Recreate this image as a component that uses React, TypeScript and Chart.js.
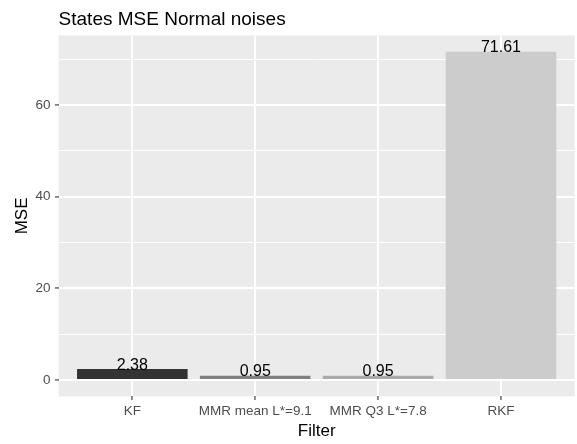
import React, { useEffect, useRef } from "react";
import { Chart, registerables } from "chart.js";

Chart.register(...registerables);

const categories = ["KF", "MMR mean L*=9.1", "MMR Q3 L*=7.8", "RKF"];
const mseValues = [2.38, 0.95, 0.95, 71.61];
const barColors = ["#333333", "#818181", "#ABABAB", "#CCCCCC"];
const yGridValues = [0, 10, 20, 30, 40, 50, 60, 70];
const yLabelValues = [0, 20, 40, 60];
const chartTitle = "States MSE Normal noises";
const xTitle = "Filter";
const yTitle = "MSE";

const FONT = "'Liberation Sans', Arial, sans-serif";
const W = 577;
const H = 444;
const PANEL = { left: 58.6, right: 574.7, top: 35.4, bottom: 396.4 };

const maxV = Math.max(...mseValues);
const Y_MIN = -0.05 * maxV;
const Y_MAX = maxV * 1.05;

const panelBg = {
  id: "panelBg",
  beforeDraw(chart: any) {
    const { ctx, chartArea } = chart;
    ctx.save();
    ctx.fillStyle = "#EBEBEB";
    ctx.fillRect(chartArea.left, chartArea.top, chartArea.right - chartArea.left, chartArea.bottom - chartArea.top);
    ctx.restore();
  },
};

const textPlugin = {
  id: "textPlugin",
  afterDatasetsDraw(chart: any) {
    const { ctx, chartArea } = chart;
    ctx.save();
    ctx.fillStyle = "#000000";
    ctx.font = `16px ${FONT}`;
    ctx.textAlign = "center";
    ctx.textBaseline = "alphabetic";
    const meta = chart.getDatasetMeta(0);
    meta.data.forEach((bar: any, i: number) => {
      ctx.fillText(mseValues[i].toFixed(2), bar.x, bar.y + 0.5);
    });
    ctx.font = `19px ${FONT}`;
    ctx.textAlign = "left";
    ctx.fillText(chartTitle, chartArea.left, 25);
    ctx.restore();
  },
};

export default function App() {
  const ref = useRef<HTMLCanvasElement | null>(null);
  useEffect(() => {
    document.body.style.margin = "0";
    const canvas = ref.current;
    if (!canvas) return;
    const chart = new Chart(canvas, {
      type: "bar",
      data: {
        datasets: [
          {
            data: categories.map((c, i) => ({ x: i, y: mseValues[i] })),
            backgroundColor: barColors,
            borderWidth: 0,
            barPercentage: 0.9,
            categoryPercentage: 1,
          },
        ],
      },
      options: {
        animation: false,
        responsive: false,
        devicePixelRatio: 1,
        layout: { padding: { left: 0, top: PANEL.top, right: W - PANEL.right, bottom: 0 } },
        plugins: { legend: { display: false }, tooltip: { enabled: false }, title: { display: false } },
        scales: {
          x: {
            type: "linear",
            offset: false,
            min: -0.6,
            max: categories.length - 0.4,
            afterBuildTicks: (scale: any) => {
              scale.ticks = categories.map((c, i) => ({ value: i }));
            },
            afterFit: (scale: any) => {
              scale.height = H - PANEL.bottom;
            },
            border: { display: false },
            grid: {
              offset: false,
              color: "#FFFFFF",
              lineWidth: 1.9,
              drawTicks: true,
              tickLength: 3.7,
              tickColor: "#333333",
              tickWidth: 1.1,
            },
            ticks: {
              autoSkip: false,
              maxRotation: 0,
              minRotation: 0,
              padding: 3,
              color: "#4D4D4D",
              font: { family: FONT, size: 13.5 },
              callback: (v: any) => categories[v] ?? "",
            },
            title: {
              display: true,
              text: xTitle,
              color: "#000000",
              font: { family: FONT, size: 17 },
              padding: { top: 0, bottom: 2 },
            },
          },
          y: {
            type: "linear",
            min: Y_MIN,
            max: Y_MAX,
            afterBuildTicks: (scale: any) => {
              scale.ticks = yGridValues.map((v) => ({ value: v }));
            },
            afterFit: (scale: any) => {
              scale.width = PANEL.left;
            },
            border: { display: false },
            grid: {
              color: "#FFFFFF",
              lineWidth: (ctx: any) => (yLabelValues.includes(ctx.tick?.value) ? 1.9 : 0.95),
              drawTicks: true,
              tickLength: 3.7,
              tickColor: (ctx: any) => (yLabelValues.includes(ctx.tick?.value) ? "#333333" : "rgba(0,0,0,0)"),
              tickWidth: 1.1,
            },
            ticks: {
              padding: 4.5,
              color: "#4D4D4D",
              font: { family: FONT, size: 13.5 },
              callback: (v: any) => (yLabelValues.includes(v) ? String(v) : ""),
            },
            title: {
              display: true,
              text: yTitle,
              color: "#000000",
              font: { family: FONT, size: 17 },
              padding: { top: 12.5, bottom: 0 },
            },
          },
        },
      },
      plugins: [panelBg, textPlugin],
    } as any);
    return () => chart.destroy();
  }, []);
  return <canvas ref={ref} width={W} height={H} style={{ display: "block" }} />;
}
